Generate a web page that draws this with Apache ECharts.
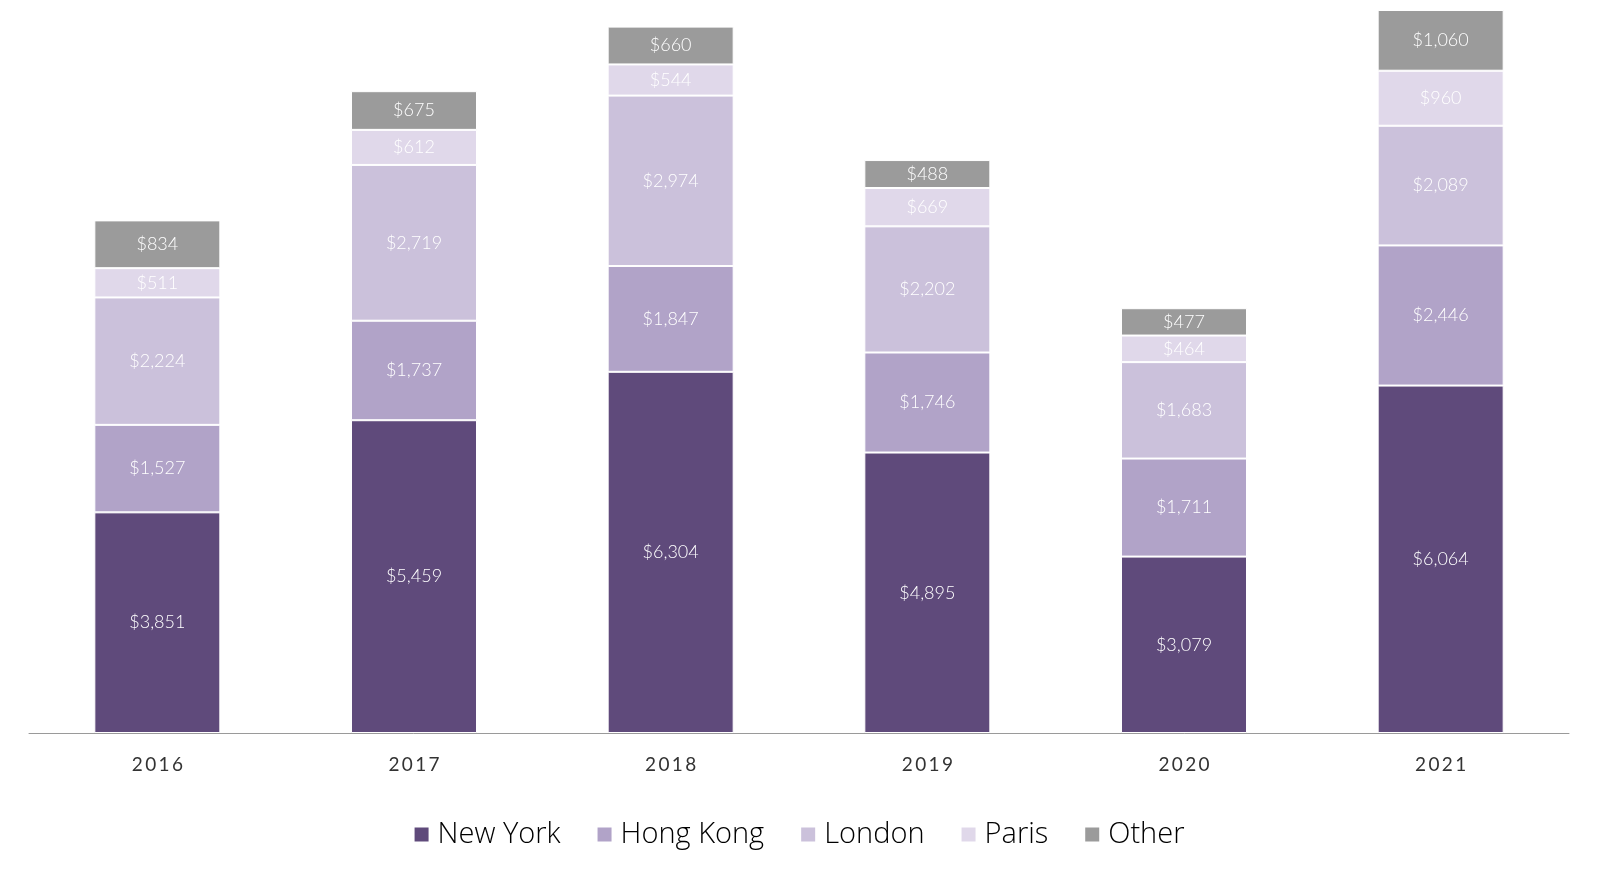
<!DOCTYPE html>
<html>
<head>
<meta charset="utf-8">
<script src="https://cdn.jsdelivr.net/npm/echarts@6/dist/echarts.min.js"></script>
<style>html,body{margin:0;padding:0;background:#fff}#c{width:1597px;height:883px}</style>
</head>
<body>
<div id="c"></div>
<script>
const categories = ['2016', '2017', '2018', '2019', '2020', '2021'];
const seriesNames = ['New York', 'Hong Kong', 'London', 'Paris', 'Other'];
const newYork = [3851, 5459, 6304, 4895, 3079, 6064];
const hongKong = [1527, 1737, 1847, 1746, 1711, 2446];
const london = [2224, 2719, 2974, 2202, 1683, 2089];
const paris = [511, 612, 544, 669, 464, 960];
const other = [834, 675, 660, 488, 477, 1060];
const colors = ['#5f4a7b', '#b1a3c8', '#cbc1db', '#e0d8ea', '#9b9b9b'];

const values = [newYork, hongKong, london, paris, other];
const FONT = 'Lato';
const chart = echarts.init(document.getElementById('c'));
chart.setOption({
  animation: false,
  color: colors,
  grid: { left: 29, right: 28, top: 10, bottom: 150, containLabel: false },
  legend: {
    bottom: 29,
    left: 'center',
    itemWidth: 16,
    itemHeight: 16,
    itemGap: 35,
    icon: 'rect',
    textStyle: { fontFamily: 'Open Sans', fontSize: 29, color: '#000', fontWeight: 300, padding: [0, 0, 0, 3] },
    data: seriesNames
  },
  xAxis: {
    type: 'category',
    data: categories,
    axisTick: { show: false },
    axisLine: { lineStyle: { color: '#9a9a9a', width: 1 } },
    axisLabel: { fontFamily: FONT, fontWeight: 400, fontSize: 19, color: '#333', margin: 22, formatter: v => v.split('').join('\u2009') }
  },
  yAxis: {
    type: 'value',
    min: 0,
    max: v => v.max,
    show: false,
    splitLine: { show: false }
  },
  series: seriesNames.map((n, i) => ({
    name: n,
    type: 'bar',
    stack: 'total',
    barWidth: 126,
    data: values[i],
    itemStyle: { color: colors[i], borderColor: '#fff', borderWidth: 1 },
    label: {
      show: true,
      position: 'inside',
      color: '#fff',
      fontFamily: FONT,
      fontWeight: 300,
      fontSize: 18,
      formatter: p => '$' + p.value.toLocaleString('en-US')
    }
  }))
});
</script>
</body>
</html>
